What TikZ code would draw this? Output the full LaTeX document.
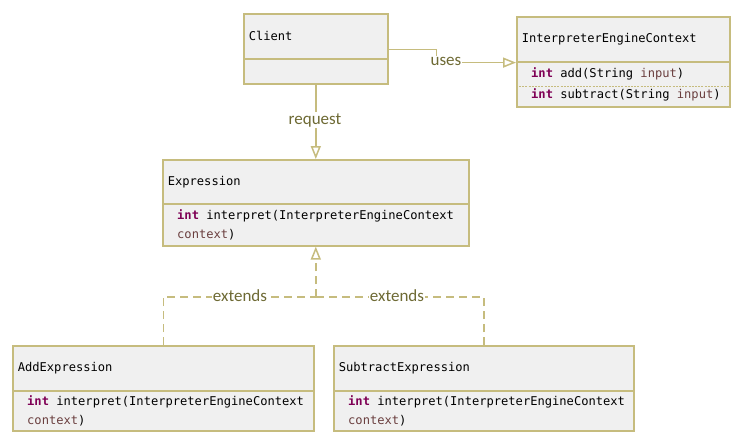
\documentclass[tikz,border=0pt]{standalone}
\usepackage{fontspec}
\newfontfamily\codefont{DejaVu Sans Mono}
\newfontfamily\labelfont{Carlito}
\usetikzlibrary{arrows.meta,shadows}
\definecolor{edgec}{HTML}{C6BC7E}
\definecolor{boxfill}{HTML}{F0F0F0}
\definecolor{lbl}{HTML}{6E6A34}
\definecolor{kw}{HTML}{7F0055}
\definecolor{var}{HTML}{6A3E3E}
\newcommand{\kwint}{\textcolor{kw}{\textbf{int}}}
\begin{document}
\begin{tikzpicture}[x=1pt,y=-1pt,
  boxbase/.style={draw=edgec, line width=1.6pt, fill=boxfill, anchor=north west,
    drop shadow={shadow xshift=1.5pt, shadow yshift=-1.5pt, opacity=0.18},
    font=\codefont\fontsize{12.1}{19}\selectfont, align=left, inner ysep=0pt},
  hdr/.style={boxbase, inner xsep=5pt},
  bodyb/.style={boxbase, inner sep=0pt},
  meth/.style={anchor=west, inner sep=0pt, align=left, font=\codefont\fontsize{12.1}{19}\selectfont},
  conn/.style={draw=edgec, line width=1.5pt, -{Triangle[open, length=13pt, width=10pt, fill=white]}},
  ext/.style={conn, dash pattern=on 8pt off 5pt},
  extl/.style={draw=edgec, line width=1.5pt, dash pattern=on 8pt off 5pt},
  lab/.style={fill=white, text=lbl, font=\labelfont\fontsize{17}{20}\selectfont, inner sep=1pt},
  sep/.style={draw=edgec, line width=0.8pt, dash pattern=on 2pt off 1.2pt}
]
\useasboundingbox[fill=white] (0,0) rectangle (741,441);

% Client
\node[hdr, text width=134pt, minimum height=45pt] (clienth) at (243,13) {Client};
\node[bodyb, minimum width=144pt, minimum height=25pt] (clientb) at (243,58) {};

% InterpreterEngineContext
\node[hdr, text width=203pt, minimum height=45pt] (ctxh) at (516,16) {InterpreterEngineContext};
\node[bodyb, minimum width=213pt, minimum height=45pt] (ctxb) at (516,61) {};
\node[meth] (ctxm1) at ([xshift=15pt,yshift=-13pt]ctxb.north west) {\kwint\ add(String \textcolor{var}{input})};
\node[meth] (ctxm2) at ([xshift=15pt,yshift=-34pt]ctxb.north west) {\kwint\ subtract(String \textcolor{var}{input})};
\draw[sep] ([xshift=3pt,yshift=-25pt]ctxb.north west) -- ([xshift=-2pt,yshift=-25pt]ctxb.north east);

% Expression
\node[hdr, text width=296pt, minimum height=44pt] (exprh) at (162,159) {Expression};
\node[bodyb, minimum width=306pt, minimum height=42pt] (exprb) at (162,203) {};
\node[meth] (exprm) at ([xshift=15pt]exprb.west)
  {\kwint\ interpret(InterpreterEngineContext\\\textcolor{var}{context})};

% AddExpression
\node[hdr, text width=291pt, minimum height=45pt] (addh) at (12,345) {AddExpression};
\node[bodyb, minimum width=301pt, minimum height=40pt] (addb) at (12,390) {};
\node[meth] (addm) at ([xshift=15pt]addb.west)
  {\kwint\ interpret(InterpreterEngineContext\\\textcolor{var}{context})};

% SubtractExpression
\node[hdr, text width=290pt, minimum height=45pt] (subh) at (333,345) {SubtractExpression};
\node[bodyb, minimum width=300pt, minimum height=40pt] (subb) at (333,390) {};
\node[meth] (subm) at ([xshift=15pt]subb.west)
  {\kwint\ interpret(InterpreterEngineContext\\\textcolor{var}{context})};

% uses
\draw[conn] ([yshift=10pt]clienth.south east) -- ++(48,0) |- (ctxh.south west);
\node[lab] (uses) at (446,61) {uses};

% request
\draw[conn] (clientb.south) -- (exprh.north);
\node[lab] (req) at (315,120) {request};

% extends
\coordinate (junc) at (exprb.south |- 0,297);
\draw[extl] (addh.north) |- (junc);
\draw[extl] (subh.north) |- (junc);
\draw[ext] (junc) -- (exprb.south);
\node[lab] (ext1) at (240,296) {extends};
\node[lab] (ext2) at (397,296) {extends};
\end{tikzpicture}
\end{document}
